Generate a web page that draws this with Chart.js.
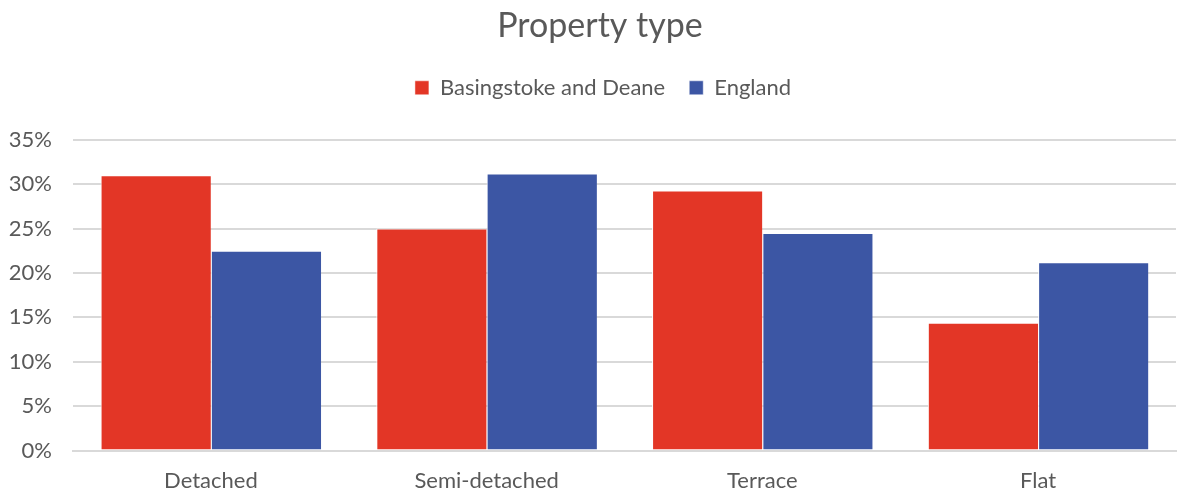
<!DOCTYPE html>
<html>
<head>
<meta charset="utf-8">
<script src="https://cdn.jsdelivr.net/npm/chart.js@4/dist/chart.umd.min.js"></script>
<style>
  html, body { margin: 0; padding: 0; background: #fff; }
  #wrap { width: 1178px; height: 497px; }
</style>
</head>
<body>
<div id="wrap"><canvas id="chart"></canvas></div>
<script>
const categories = ['Detached', 'Semi-detached', 'Terrace', 'Flat'];
const basingstoke = [31.0, 25.0, 29.3, 14.4];
const england = [22.5, 31.2, 24.5, 21.2];
const yTicks = [0, 5, 10, 15, 20, 25, 30, 35];

const font = 'Lato, "Open Sans", sans-serif';
const textColor = '#595959';

// extra room under the legend, and nudge title/legend a bit right like the original
const headerTweak = {
    id: 'headerTweak',
    afterInit(chart) {
        const origFit = chart.legend.fit;
        chart.legend.fit = function() {
            origFit.call(this);
            this.height += 31;
        };
    },
    afterLayout(chart) {
        chart.titleBlock.left += 8;
        chart.titleBlock.right += 8;
        chart.legend.left += 11;
        chart.legend.right += 11;
    }
};

new Chart(document.getElementById('chart'), {
    type: 'bar',
    data: {
        labels: categories,
        datasets: [{
            label: 'Basingstoke and Deane',
            data: basingstoke,
            backgroundColor: '#E33626',
            borderColor: '#ffffff',
            borderWidth: { top: 1, left: 1, right: 0, bottom: 0 },
            categoryPercentage: 0.8,
            barPercentage: 1.0
        }, {
            label: 'England',
            data: england,
            backgroundColor: '#3C56A4',
            borderColor: '#ffffff',
            borderWidth: { top: 1, left: 1, right: 0, bottom: 0 },
            categoryPercentage: 0.8,
            barPercentage: 1.0
        }]
    },
    options: {
        responsive: true,
        maintainAspectRatio: false,
        animation: false,
        layout: { padding: { left: 8, right: 2, top: 6, bottom: -6 } },
        plugins: {
            title: {
                display: true,
                text: 'Property type',
                color: textColor,
                font: { family: font, size: 34, weight: 'normal' },
                padding: { top: 0, bottom: 6 }
            },
            legend: {
                display: true,
                labels: {
                    color: textColor,
                    font: { family: font, size: 22 },
                    boxWidth: 14,
                    boxHeight: 14,
                    padding: 24
                }
            },
            tooltip: { enabled: false }
        },
        scales: {
            x: {
                grid: { display: false },
                border: { display: true, color: '#D9D9D9', width: 2 },
                ticks: {
                    color: textColor,
                    font: { family: font, size: 22 },
                    padding: 9
                }
            },
            y: {
                min: 0,
                max: 35,
                afterBuildTicks: function(axis) {
                    axis.ticks = yTicks.map(v => ({ value: v }));
                },
                afterFit: function(axis) {
                    axis.width = 65;
                },
                grid: { color: '#D9D9D9', lineWidth: 2, drawTicks: false },
                border: { display: false },
                ticks: {
                    color: textColor,
                    font: { family: font, size: 22 },
                    padding: 21,
                    callback: v => v + '%'
                }
            }
        }
    },
    plugins: [headerTweak]
});
</script>
</body>
</html>
